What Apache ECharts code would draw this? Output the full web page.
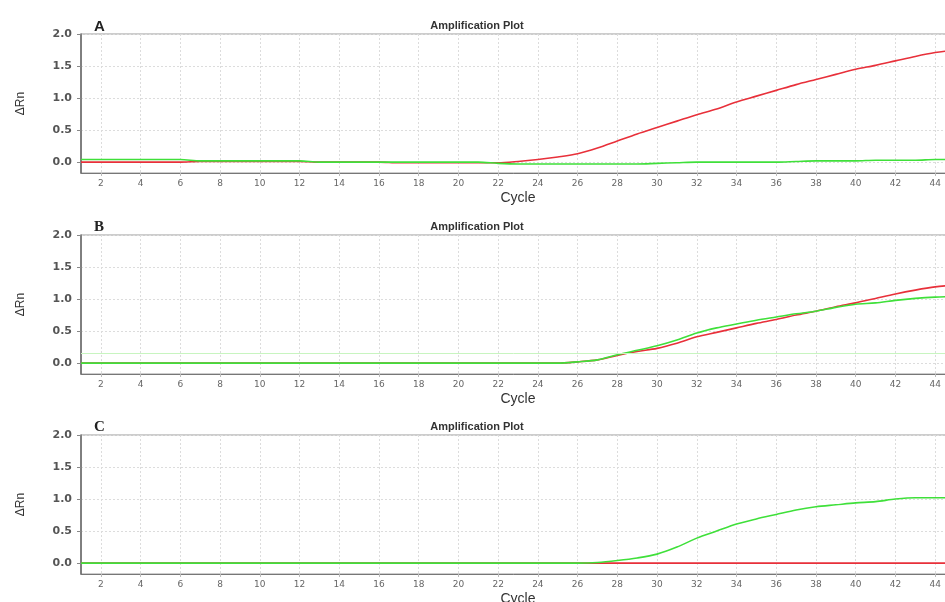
<!DOCTYPE html>
<html>
<head>
<meta charset="utf-8">
<script src="https://cdn.jsdelivr.net/npm/echarts@6/dist/echarts.min.js"></script>
<style>
html,body{margin:0;padding:0;background:#fff;}
#chart{width:945px;height:602px;}
</style>
</head>
<body>
<div id="chart"></div>
<script>
const cycles = [1,2,3,4,5,6,7,8,9,10,11,12,13,14,15,16,17,18,19,20,21,22,23,24,25,26,27,28,29,30,31,32,33,34,35,36,37,38,39,40,41,42,43,44,45];
const xTicks = [2,4,6,8,10,12,14,16,18,20,22,24,26,28,30,32,34,36,38,40,42,44];
const yTicks = [0,0.5,1.0,1.5,2.0];
const panelLetters = ['A','B','C'];
const panelTitle = 'Amplification Plot';

// Panel A
const redA = [0.0,0.0,0.0,0.0,0.0,0.0,0.01,0.01,0.01,0.01,0.01,0.01,0.0,0.0,0.0,0.0,-0.01,-0.01,-0.01,-0.01,-0.01,-0.01,0.01,0.04,0.08,0.13,0.22,0.33,0.44,0.54,0.64,0.74,0.83,0.94,1.03,1.12,1.21,1.29,1.37,1.45,1.51,1.58,1.65,1.71,1.75];
const greenA = [0.04,0.04,0.04,0.04,0.04,0.04,0.02,0.02,0.02,0.02,0.02,0.02,0.0,0.0,0.0,0.0,0.0,0.0,0.0,0.0,0.0,-0.02,-0.03,-0.03,-0.03,-0.03,-0.03,-0.03,-0.03,-0.02,-0.01,0.0,0.0,0.0,0.0,0.0,0.01,0.02,0.02,0.02,0.03,0.03,0.03,0.04,0.04];
// Panel B
const redB = [0,0,0,0,0,0,0,0,0,0,0,0,0,0,0,0,0,0,0,0,0,0,0,0,0.0,0.02,0.05,0.12,0.18,0.23,0.31,0.41,0.48,0.55,0.62,0.68,0.75,0.81,0.88,0.94,1.01,1.08,1.14,1.19,1.22];
const greenB = [0,0,0,0,0,0,0,0,0,0,0,0,0,0,0,0,0,0,0,0,0,0,0,0,0.0,0.02,0.05,0.13,0.20,0.27,0.36,0.47,0.55,0.61,0.67,0.72,0.77,0.81,0.87,0.92,0.94,0.98,1.01,1.03,1.04];
const thresholdB = 0.15;
// Panel C
const redC = [0,0,0,0,0,0,0,0,0,0,0,0,0,0,0,0,0,0,0,0,0,0,0,0,0,0,0,0,0,0,0,0,0,0,0,0,0,0,0,0,0,0,0,0,0];
const greenC = [0,0,0,0,0,0,0,0,0,0,0,0,0,0,0,0,0,0,0,0,0,0,0,0,0,0,0.01,0.04,0.08,0.14,0.25,0.39,0.50,0.61,0.69,0.76,0.83,0.88,0.91,0.94,0.96,1.0,1.02,1.02,1.02];

const panels = [
  {red: redA, green: greenA, top: 34},
  {red: redB, green: greenB, top: 235},
  {red: redC, green: greenC, top: 435}
];

const RED = '#e8303a';
const GREEN = '#3fe03a';
const pair = arr => cycles.map((c, i) => [c, arr[i]]);

const grids = [], xAxes = [], yAxes = [], series = [], titles = [];
panels.forEach((p, i) => {
  grids.push({left: 81, width: 874, top: p.top, height: 139, outerBoundsMode: 'none', containLabel: false,
    show: true, borderColor: '#9a9a9a', borderWidth: 1, backgroundColor: '#fff'});
  xAxes.push({
    type: 'value', gridIndex: i, min: 1, max: 45,
    name: 'Cycle', nameLocation: 'middle', nameGap: 18,
    nameTextStyle: {fontFamily: 'Liberation Sans', fontSize: 14, color: '#333'},
    axisLine: {show: true, onZero: false, lineStyle: {color: '#777', width: 1}},
    axisTick: {show: true, length: 3, customValues: xTicks, lineStyle: {color: '#bbb'}},
    axisLabel: {customValues: xTicks, fontFamily: 'DejaVu Sans', fontSize: 9, color: '#666', margin: 6},
    splitLine: {show: true, lineStyle: {color: '#dcdcdc', type: [2, 2], width: 1}}
  });
  yAxes.push({
    type: 'value', gridIndex: i, min: -0.17, max: 2.0,
    name: 'ΔRn', nameLocation: 'middle', nameGap: 54, nameRotate: 90,
    nameTextStyle: {fontFamily: 'Liberation Sans Narrow, Liberation Sans', fontSize: 12, color: '#333'},
    axisLine: {show: true, lineStyle: {color: '#666', width: 1.5}},
    axisTick: {show: true, length: 4, customValues: yTicks, lineStyle: {color: '#888'}},
    axisLabel: {customValues: yTicks, formatter: v => v.toFixed(1), fontFamily: 'DejaVu Sans', fontWeight: 'bold', fontSize: 11, color: '#555', margin: 9},
    splitLine: {show: true, lineStyle: {color: '#dcdcdc', type: [2, 2], width: 1}}
  });
  series.push({
    type: 'line', xAxisIndex: i, yAxisIndex: i, data: pair(p.red), showSymbol: false, smooth: 0.3,
    lineStyle: {color: RED, width: 1.6}, itemStyle: {color: RED}, z: 2
  });
  const g = {
    type: 'line', xAxisIndex: i, yAxisIndex: i, data: pair(p.green), showSymbol: false, smooth: 0.3,
    lineStyle: {color: GREEN, width: 1.6}, itemStyle: {color: GREEN}, z: 3
  };
  if (i === 1) {
    g.markLine = {silent: true, symbol: 'none', label: {show: false},
      lineStyle: {color: '#c8f5c0', type: 'solid', width: 1}, data: [{yAxis: thresholdB}]};
  }
  series.push(g);
  titles.push({text: panelTitle, left: 472, top: p.top - 19, textAlign: 'center',
    textStyle: {fontFamily: 'Liberation Sans', fontSize: 11, fontWeight: 'bold', color: '#333'}});
  titles.push({text: panelLetters[i], left: 89, top: p.top - 20,
    textStyle: {fontFamily: i === 0 ? 'Liberation Sans' : 'Liberation Serif', fontSize: 15, fontWeight: 'bold', color: '#222'}});
});

const chart = echarts.init(document.getElementById('chart'), null, {renderer: 'canvas'});
chart.setOption({
  animation: false,
  backgroundColor: '#fff',
  title: titles,
  grid: grids,
  xAxis: xAxes,
  yAxis: yAxes,
  series: series
});
</script>
</body>
</html>
